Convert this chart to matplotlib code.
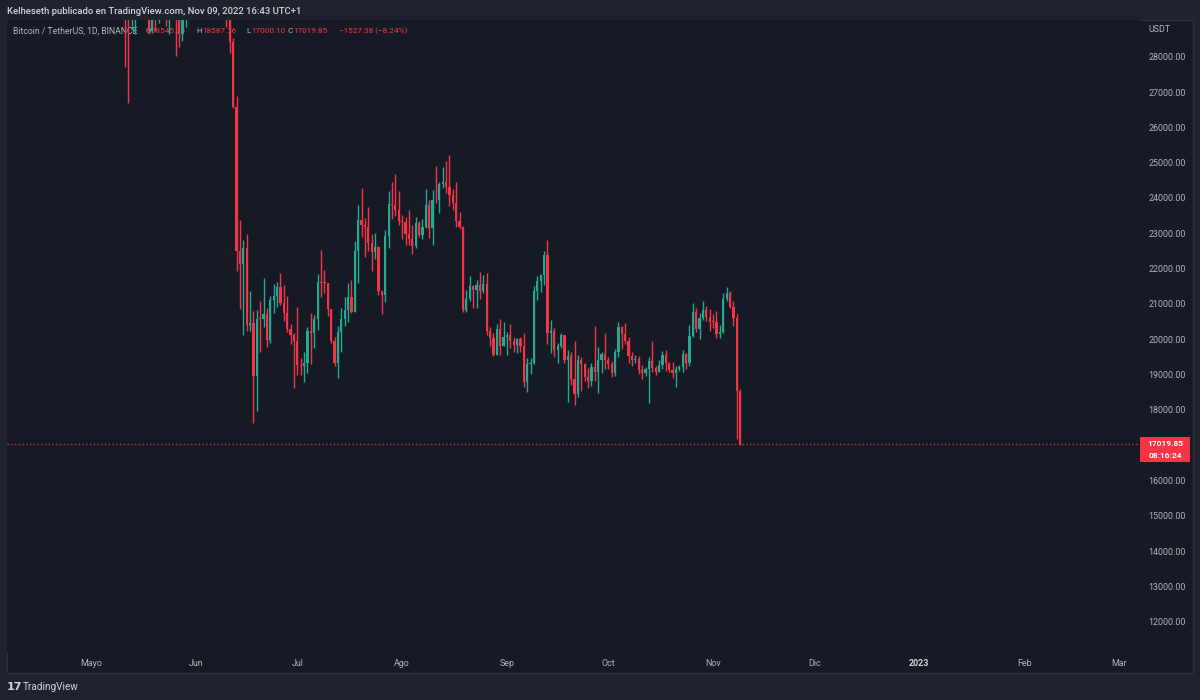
import matplotlib
matplotlib.use("Agg")
import matplotlib.pyplot as plt
import matplotlib.dates as mdates
import numpy as np
import pandas as pd
from matplotlib.patches import Rectangle

# ---------------- data (BTC/USDT daily) ----------------
start_date = "2022-05-11"

opens = [
    # May 11-31
    31017, 29104, 29031, 29287, 30086, 31329, 29874, 30425, 28716, 30320, 29201,
    29445, 30294, 29110, 29655, 29543, 29201, 28630, 29031, 29469, 31726,
    # Jun
    31801, 29799, 30467, 29705, 29864, 29920, 31373, 31125, 30204, 30110,
    29084, 28424, 26575, 22487, 22136, 22583, 20401, 20468, 18970, 20574,
    20573, 20723, 19988, 21110, 21237, 21492, 21038, 20742, 20281, 20123,
    # Jul
    19942, 19279, 19252, 19315, 20236, 20175, 20564, 21624, 21594, 21591,
    20862, 19963, 19328, 20212, 20569, 20836, 21190, 20779, 22485, 23389,
    23231, 23164, 22714, 22465, 22609, 21361, 21239, 22930, 23843, 23804, 23656,
    # Aug
    23336, 23314, 22978, 22846, 22630, 23289, 22961, 23175, 23810, 23149,
    23954, 23934, 24403, 24441, 24305, 24094, 23854, 23342, 23191, 20834,
    21140, 21516, 21399, 21529, 21368, 21559, 20241, 20037, 19555, 20285, 19811,
    # Sep
    20050, 20131, 19951, 19831, 20000, 19796, 18790, 19292, 19319, 21361,
    21651, 21826, 22395, 20173, 20227, 19701, 19803, 20113, 19416, 19537,
    18875, 18461, 19401, 19289, 18920, 18807, 19227, 19079, 19412, 19591,
    # Oct
    19423, 19311, 19056, 19629, 20337, 20158, 19955, 19531, 19417, 19446,
    19141, 19051, 19157, 19382, 19185, 19067, 19268, 19549, 19327, 19123,
    19041, 19164, 19204, 19570, 19329, 20080, 20771, 20295, 20595, 20818, 20635,
    # Nov 1-9
    20495, 20485, 20159, 20209, 21148, 21299, 20905, 20591, 18545.38,
]
highs = [
    32162, 30032, 30998, 30343, 31460, 31329, 30788, 30666, 30545, 30777, 29656,
    30487, 30670, 29830, 30223, 29874, 29397, 29250, 29531, 31850, 32400,
    31982, 30690, 30700, 29950, 30150, 31765, 31555, 31328, 30700, 30384,
    29440, 28544, 26895, 23363, 22800, 22980, 21365, 20792, 20815, 21090,
    21723, 20872, 21233, 21558, 21614, 21868, 21540, 21212, 20432, 20179,
    20918, 19466, 19647, 20354, 20750, 20675, 21838, 22527, 21951, 21599,
    20868, 20060, 20366, 20880, 21200, 21588, 21684, 22777, 23800, 24276,
    23442, 23757, 22977, 23014, 22652, 21361, 23100, 24199, 24442, 24668, 24194,
    23509, 23459, 23647, 23223, 23450, 23355, 23400, 24245, 23930, 24226,
    24918, 24456, 24888, 25048, 25211, 24247, 24446, 23600, 23208, 21382,
    21800, 21522, 21684, 21900, 21819, 21886, 20340, 20166, 20433, 20575, 20490,
    20198, 20444, 20055, 20029, 20058, 20180, 19464, 19458, 21500, 21800,
    21860, 22488, 22799, 20541, 20330, 19890, 20189, 20117, 19686, 19634,
    19956, 19550, 19500, 19316, 19180, 19315, 20385, 19790, 19645, 20185,
    19486, 19395, 19719, 20475, 20365, 20456, 20058, 19627, 19558, 19526,
    19264, 19213, 19505, 19951, 19228, 19424, 19676, 19706, 19360, 19347,
    19250, 19257, 19695, 19601, 20400, 21020, 20872, 20750, 21085, 20931, 20845,
    20700, 20800, 20394, 21302, 21480, 21365, 21069, 20700, 18587.76,
]
lows = [
    27700, 26700, 28751, 28630, 29480, 29087, 29450, 28654, 28669, 28730, 28948,
    29255, 28866, 28630, 29294, 28019, 28282, 28451, 28839, 29300, 31200,
    29300, 29594, 29250, 29500, 29500, 29880, 29218, 29843, 29944, 28850,
    28100, 26560, 21925, 20846, 20111, 20232, 20246, 17622, 17960, 19637,
    20348, 19770, 19890, 20736, 20906, 20960, 20510, 20202, 19854, 18626,
    18975, 18977, 18781, 19055, 19304, 19761, 20251, 21189, 21319, 20655,
    19901, 19240, 18910, 19650, 20384, 20478, 20752, 20763, 21581, 22906,
    22341, 22500, 21934, 22258, 21250, 20706, 21042, 22582, 23414, 23502, 23227,
    22850, 22654, 22681, 22400, 22587, 22900, 22840, 23155, 22865, 22664,
    23853, 23583, 24295, 24140, 23773, 23671, 23180, 23108, 20783, 20761,
    21069, 20890, 20890, 21145, 21310, 20107, 19800, 19520, 19550, 19540, 19797,
    19565, 19755, 19652, 19596, 19636, 18650, 18510, 19012, 19297, 21111,
    21350, 21538, 19860, 19617, 19497, 19320, 19748, 19335, 18232, 18711,
    18125, 18356, 18531, 18805, 18630, 18680, 18816, 18471, 19038, 19155,
    19160, 18920, 18959, 19490, 19730, 19854, 19320, 19255, 19326, 19025,
    18860, 18965, 18190, 19070, 18975, 19063, 19160, 19100, 19070, 18900,
    18650, 19111, 19070, 19157, 19242, 20060, 20200, 20000, 20545, 20512, 20237,
    20330, 20048, 20032, 20180, 21080, 20880, 20384, 17166, 17000.10,
]
closes = [
    29103, 29031, 29287, 30086, 31329, 29874, 30425, 28715, 30320, 29201, 29445,
    30294, 29110, 29655, 29543, 29201, 28630, 29031, 29469, 31726, 31801,
    29799, 30467, 29705, 29864, 29920, 31373, 31125, 30204, 30110, 29084,
    28424, 26575, 22487, 22136, 22583, 20401, 20468, 18970, 20574, 20573,
    20723, 19987, 21110, 21237, 21492, 21038, 20742, 20281, 20123, 19942,
    19279, 19252, 19315, 20236, 20175, 20564, 21624, 21594, 21591, 20862,
    19963, 19328, 20212, 20569, 20836, 21190, 20779, 22485, 23389, 23231,
    23164, 22714, 22465, 22609, 21361, 21239, 22930, 23843, 23804, 23656, 23336,
    23314, 22978, 22846, 22630, 23289, 22961, 23175, 23810, 23149, 23954,
    23934, 24403, 24441, 24305, 24094, 23854, 23342, 23191, 20834, 21140,
    21516, 21399, 21529, 21368, 21559, 20241, 20037, 19555, 20285, 19811, 20050,
    20131, 19951, 19831, 20000, 19796, 18790, 19292, 19319, 21361, 21651,
    21826, 22395, 20173, 20226, 19701, 19803, 20113, 19416, 19537, 18875,
    18461, 19401, 19289, 18920, 18807, 19227, 19079, 19412, 19591, 19423,
    19311, 19056, 19629, 20337, 20158, 19955, 19531, 19417, 19446, 19141,
    19051, 19157, 19382, 19185, 19067, 19268, 19549, 19327, 19123, 19041,
    19164, 19204, 19570, 19329, 20080, 20771, 20295, 20595, 20818, 20635, 20495,
    20485, 20159, 20209, 21148, 21299, 20905, 20591, 18547, 17019.85,
]

# visible price-scale labels (17000 is hidden behind the last-price badge)
price_ticks = [12000, 13000, 14000, 15000, 16000, 18000, 19000, 20000,
               21000, 22000, 23000, 24000, 25000, 26000, 27000, 28000]
month_ticks = ["2022-05-01", "2022-06-01", "2022-07-01", "2022-08-01", "2022-09-01",
               "2022-10-01", "2022-11-01", "2022-12-01", "2023-01-01", "2023-02-01",
               "2023-03-01"]
month_labels = ["Mayo", "Jun", "Jul", "Ago", "Sep", "Oct", "Nov", "Dic", "2023", "Feb", "Mar"]
last_price = 17019.85
countdown = "08:16:24"
title_text = "Kelheseth publicado en TradingView.com, Nov 09, 2022 16:43 UTC+1"

# ---------------- style ----------------
W, H = 1200, 700
OUTER = "#1e222d"
PANE = "#161a25"
BORDER = "#2a2e39"
UP = "#22ab94"
DOWN = "#f23645"
TXT = "#b2b5be"
FONT = ["Roboto", "DejaVu Sans"]
plt.rcParams["font.family"] = FONT

dates = pd.date_range(start_date, periods=len(closes), freq="D")
x = mdates.date2num(dates.to_pydatetime())
o = np.array(opens, float); h = np.array(highs, float)
l = np.array(lows, float); c = np.array(closes, float)
up = c >= o
cols = np.where(up, UP, DOWN)

fig = plt.figure(figsize=(W / 100, H / 100), dpi=100, facecolor=OUTER)

def fx(px):
    return px / W

def fy(py):
    return 1 - py / H

# pane background + border (behind the axes)
fig.patches.append(Rectangle((fx(7), fy(673)), fx(1193) - fx(7), fy(20) - fy(673),
                             transform=fig.transFigure, facecolor=PANE,
                             edgecolor=BORDER, linewidth=1.0, zorder=-5))

ax = fig.add_axes([fx(7), fy(652), fx(1138) - fx(7), fy(20) - fy(652)])
ax.set_zorder(1)
ax.set_facecolor(PANE)
for s in ax.spines.values():
    s.set_visible(False)

jun1 = mdates.date2num(pd.Timestamp("2022-06-01").to_pydatetime())
ax.set_xlim(jun1 - 55.9, jun1 + 278.7)
ax.set_ylim(11142, 29040)

# candles
ax.vlines(x, l, h, colors=cols, linewidth=1.0, zorder=3)
bottoms = np.minimum(o, c)
heights = np.maximum(np.abs(c - o), 20)
ax.bar(x, heights, bottom=bottoms, width=0.66, color=cols, linewidth=0, zorder=3)

# last price dotted line
ax.axhline(last_price, color=DOWN, linestyle=(0, (1, 2)), linewidth=0.9, zorder=2)

# ticks
ax.set_yticks(price_ticks)
ax.set_yticklabels([f"{v:.2f}" for v in price_ticks])
ax.yaxis.tick_right()
ax.tick_params(axis="y", length=0, pad=7.5, labelsize=6.4, labelcolor=TXT)
mt = [mdates.date2num(pd.Timestamp(d).to_pydatetime()) for d in month_ticks]
ax.set_xticks(mt)
ax.set_xticklabels(month_labels)
ax.tick_params(axis="x", length=0, pad=5, labelsize=6.4, labelcolor=TXT)
for lab in ax.get_xticklabels():
    if lab.get_text() == "2023":
        lab.set_color("#d1d4dc")
        lab.set_fontweight("bold")
ax.grid(False)

# header legend (drawn beneath the candles)
ty = fy(31)
tr = fig.transFigure
ax.text(fx(13), ty, "Bitcoin / TetherUS, 1D, BINANCE", transform=tr, color=TXT,
        fontsize=6.2, va="center", ha="left", zorder=1)
parts = [(145, "O", TXT), (151, "18545.38", DOWN), (196, "H", TXT), (202, "18587.76", DOWN),
         (246, "L", TXT), (251, "17000.10", DOWN), (288, "C", TXT), (293, "17019.85", DOWN),
         (339, "\u22121527.38 (\u22128.24%)", DOWN)]
for px, s, col in parts:
    ax.text(fx(px), ty, s, transform=tr, color=col, fontsize=5.9, va="center",
            ha="left", zorder=1)

# top title
fig.text(fx(7), fy(11), title_text, color="#d1d4dc", fontsize=6.8, va="center",
         ha="left", fontweight="medium")
# USDT unit label
fig.text(fx(1148), fy(30), "USDT", color=TXT, fontsize=6.4, va="center", ha="left")

# last price label box
fig.patches.append(Rectangle((fx(1140), fy(462)), fx(1190) - fx(1140), fy(437) - fy(462),
                             transform=fig.transFigure, facecolor=DOWN,
                             edgecolor="none", zorder=5))
fig.text(fx(1165), fy(443), f"{last_price:.2f}", color="white", fontsize=6.0,
         fontweight="bold", va="center", ha="center", zorder=6)
fig.text(fx(1165), fy(456), countdown, color="white", fontsize=6.0,
         fontweight="bold", va="center", ha="center", zorder=6)

# footer logo
fig.text(fx(7), fy(687), "17", color="#d1d4dc", fontsize=8, fontweight="heavy",
         va="center", ha="left", family=["DejaVu Sans"])
fig.text(fx(23), fy(687), "TradingView", color="#d1d4dc", fontsize=7.2,
         va="center", ha="left")

fig.savefig("out.png", dpi=100, facecolor=OUTER)
